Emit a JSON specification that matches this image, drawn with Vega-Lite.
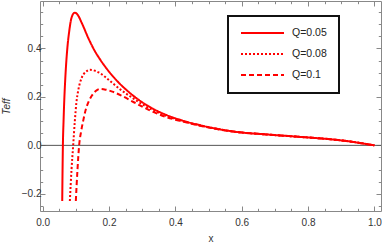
{
  "$schema": "https://vega.github.io/schema/vega-lite/v6.json",
  "width": 341,
  "height": 210,
  "autosize": "none",
  "padding": {"left": 40, "top": 1, "right": 1, "bottom": 33},
  "background": "white",
  "config": {
    "view": {"stroke": "#888888", "strokeWidth": 1},
    "font": "Liberation Sans",
    "legend": {"strokeWidth": 2},
    "axis": {
      "domain": false,
      "grid": false,
      "tickColor": "#888888",
      "labelColor": "#333333",
      "labelFont": "Liberation Sans",
      "labelFontSize": 10,
      "titleFont": "Liberation Sans",
      "titleFontSize": 10,
      "titleFontWeight": "normal",
      "titleColor": "#333333"
    }
  },
  "layer": [
    {
      "data": {"values": [{"x": -0.008, "x2": 1.02, "y": 0}]},
      "mark": {"type": "rule", "color": "#555555", "strokeWidth": 1},
      "encoding": {
        "x": {
          "field": "x", "type": "quantitative",
          "scale": {"domain": [-0.008, 1.02], "nice": false, "zero": false},
          "axis": {
            "orient": "top", "title": null, "labels": false,
            "values": [0, 0.05, 0.1, 0.15, 0.2, 0.25, 0.3, 0.35, 0.4, 0.45, 0.5, 0.55, 0.6, 0.65, 0.7, 0.75, 0.8, 0.85, 0.9, 0.95, 1.0],
            "tickSize": {"condition": {"test": "abs(datum.value*5 - round(datum.value*5)) < 0.001", "value": -5}, "value": -2.7}
          }
        },
        "x2": {"field": "x2"},
        "y": {
          "field": "y", "type": "quantitative",
          "scale": {"domain": [-0.271, 0.596], "nice": false, "zero": false},
          "axis": {
            "orient": "right", "title": null, "labels": false,
            "values": [-0.25, -0.2, -0.15, -0.1, -0.05, 0, 0.05, 0.1, 0.15, 0.2, 0.25, 0.3, 0.35, 0.4, 0.45, 0.5, 0.55],
            "tickSize": {"condition": {"test": "abs(datum.value*5 - round(datum.value*5)) < 0.001", "value": -5}, "value": -2.7}
          }
        }
      }
    },
    {
      "data": {"name": "curves", "values": [
        {"Q": "Q=0.05", "x": 0.059, "y": -0.23},
        {"Q": "Q=0.05", "x": 0.060, "y": -0.10},
        {"Q": "Q=0.05", "x": 0.061, "y": 0.0},
        {"Q": "Q=0.05", "x": 0.063, "y": 0.10},
        {"Q": "Q=0.05", "x": 0.065, "y": 0.18},
        {"Q": "Q=0.05", "x": 0.068, "y": 0.27},
        {"Q": "Q=0.05", "x": 0.071, "y": 0.34},
        {"Q": "Q=0.05", "x": 0.075, "y": 0.41},
        {"Q": "Q=0.05", "x": 0.080, "y": 0.47},
        {"Q": "Q=0.05", "x": 0.085, "y": 0.515},
        {"Q": "Q=0.05", "x": 0.090, "y": 0.538},
        {"Q": "Q=0.05", "x": 0.097, "y": 0.548},
        {"Q": "Q=0.05", "x": 0.105, "y": 0.54},
        {"Q": "Q=0.05", "x": 0.118, "y": 0.505},
        {"Q": "Q=0.05", "x": 0.137, "y": 0.445},
        {"Q": "Q=0.05", "x": 0.155, "y": 0.395},
        {"Q": "Q=0.05", "x": 0.173, "y": 0.355},
        {"Q": "Q=0.05", "x": 0.19, "y": 0.322},
        {"Q": "Q=0.05", "x": 0.21, "y": 0.288},
        {"Q": "Q=0.05", "x": 0.23, "y": 0.258},
        {"Q": "Q=0.05", "x": 0.25, "y": 0.232},
        {"Q": "Q=0.05", "x": 0.275, "y": 0.203},
        {"Q": "Q=0.05", "x": 0.30, "y": 0.178},
        {"Q": "Q=0.05", "x": 0.33, "y": 0.153},
        {"Q": "Q=0.05", "x": 0.37, "y": 0.127},
        {"Q": "Q=0.05", "x": 0.42, "y": 0.103},
        {"Q": "Q=0.05", "x": 0.475, "y": 0.083},
        {"Q": "Q=0.05", "x": 0.535, "y": 0.066},
        {"Q": "Q=0.05", "x": 0.575, "y": 0.057},
        {"Q": "Q=0.05", "x": 0.675, "y": 0.045},
        {"Q": "Q=0.05", "x": 0.776, "y": 0.035},
        {"Q": "Q=0.05", "x": 0.876, "y": 0.024},
        {"Q": "Q=0.05", "x": 0.927, "y": 0.016},
        {"Q": "Q=0.05", "x": 0.96, "y": 0.009},
        {"Q": "Q=0.05", "x": 1.0, "y": 0.0},
        {"Q": "Q=0.08", "x": 0.082, "y": -0.23},
        {"Q": "Q=0.08", "x": 0.087, "y": -0.10},
        {"Q": "Q=0.08", "x": 0.092, "y": 0.0},
        {"Q": "Q=0.08", "x": 0.097, "y": 0.10},
        {"Q": "Q=0.08", "x": 0.102, "y": 0.18},
        {"Q": "Q=0.08", "x": 0.107, "y": 0.225},
        {"Q": "Q=0.08", "x": 0.118, "y": 0.28},
        {"Q": "Q=0.08", "x": 0.13, "y": 0.303},
        {"Q": "Q=0.08", "x": 0.143, "y": 0.312},
        {"Q": "Q=0.08", "x": 0.16, "y": 0.307},
        {"Q": "Q=0.08", "x": 0.173, "y": 0.298},
        {"Q": "Q=0.08", "x": 0.188, "y": 0.283},
        {"Q": "Q=0.08", "x": 0.21, "y": 0.258},
        {"Q": "Q=0.08", "x": 0.238, "y": 0.227},
        {"Q": "Q=0.08", "x": 0.275, "y": 0.192},
        {"Q": "Q=0.08", "x": 0.30, "y": 0.170},
        {"Q": "Q=0.08", "x": 0.33, "y": 0.147},
        {"Q": "Q=0.08", "x": 0.37, "y": 0.123},
        {"Q": "Q=0.08", "x": 0.42, "y": 0.101},
        {"Q": "Q=0.08", "x": 0.475, "y": 0.082},
        {"Q": "Q=0.08", "x": 0.535, "y": 0.066},
        {"Q": "Q=0.08", "x": 0.575, "y": 0.057},
        {"Q": "Q=0.08", "x": 0.675, "y": 0.045},
        {"Q": "Q=0.08", "x": 0.776, "y": 0.035},
        {"Q": "Q=0.08", "x": 0.876, "y": 0.024},
        {"Q": "Q=0.08", "x": 0.927, "y": 0.016},
        {"Q": "Q=0.08", "x": 0.96, "y": 0.009},
        {"Q": "Q=0.08", "x": 1.0, "y": 0.0},
        {"Q": "Q=0.1", "x": 0.100, "y": -0.23},
        {"Q": "Q=0.1", "x": 0.105, "y": -0.10},
        {"Q": "Q=0.1", "x": 0.110, "y": 0.0},
        {"Q": "Q=0.1", "x": 0.116, "y": 0.058},
        {"Q": "Q=0.1", "x": 0.122, "y": 0.10},
        {"Q": "Q=0.1", "x": 0.13, "y": 0.148},
        {"Q": "Q=0.1", "x": 0.14, "y": 0.185},
        {"Q": "Q=0.1", "x": 0.148, "y": 0.205},
        {"Q": "Q=0.1", "x": 0.16, "y": 0.224},
        {"Q": "Q=0.1", "x": 0.173, "y": 0.233},
        {"Q": "Q=0.1", "x": 0.19, "y": 0.23},
        {"Q": "Q=0.1", "x": 0.21, "y": 0.222},
        {"Q": "Q=0.1", "x": 0.238, "y": 0.205},
        {"Q": "Q=0.1", "x": 0.275, "y": 0.178},
        {"Q": "Q=0.1", "x": 0.30, "y": 0.160},
        {"Q": "Q=0.1", "x": 0.33, "y": 0.140},
        {"Q": "Q=0.1", "x": 0.37, "y": 0.118},
        {"Q": "Q=0.1", "x": 0.42, "y": 0.099},
        {"Q": "Q=0.1", "x": 0.475, "y": 0.081},
        {"Q": "Q=0.1", "x": 0.535, "y": 0.065},
        {"Q": "Q=0.1", "x": 0.575, "y": 0.057},
        {"Q": "Q=0.1", "x": 0.675, "y": 0.045},
        {"Q": "Q=0.1", "x": 0.776, "y": 0.035},
        {"Q": "Q=0.1", "x": 0.876, "y": 0.024},
        {"Q": "Q=0.1", "x": 0.927, "y": 0.016},
        {"Q": "Q=0.1", "x": 0.96, "y": 0.009},
        {"Q": "Q=0.1", "x": 1.0, "y": 0.0}
      ]},
      "mark": {"type": "line", "color": "#ff0000", "strokeWidth": 2, "interpolate": "monotone", "clip": true},
      "encoding": {
        "x": {
          "field": "x", "type": "quantitative",
          "scale": {"domain": [-0.008, 1.02], "nice": false, "zero": false},
          "title": "x",
          "axis": {
            "orient": "bottom",
            "values": [0, 0.05, 0.1, 0.15, 0.2, 0.25, 0.3, 0.35, 0.4, 0.45, 0.5, 0.55, 0.6, 0.65, 0.7, 0.75, 0.8, 0.85, 0.9, 0.95, 1.0],
            "labelExpr": "abs(datum.value*5 - round(datum.value*5)) < 0.001 ? format(datum.value, '.1f') : ''",
            "tickSize": {"condition": {"test": "abs(datum.value*5 - round(datum.value*5)) < 0.001", "value": -5}, "value": -2.7},
            "labelPadding": 11,
            "titlePadding": 6,
            "labelFlush": false
          }
        },
        "y": {
          "field": "y", "type": "quantitative",
          "scale": {"domain": [-0.271, 0.596], "nice": false, "zero": false},
          "title": "Teff",
          "axis": {
            "orient": "left",
            "values": [-0.25, -0.2, -0.15, -0.1, -0.05, 0, 0.05, 0.1, 0.15, 0.2, 0.25, 0.3, 0.35, 0.4, 0.45, 0.5, 0.55],
            "labelExpr": "abs(datum.value*5 - round(datum.value*5)) < 0.001 ? format(datum.value, '.1f') : ''",
            "tickSize": {"condition": {"test": "abs(datum.value*5 - round(datum.value*5)) < 0.001", "value": -5}, "value": -2.7},
            "labelPadding": 4,
            "titlePadding": 10,
            "titleFontStyle": "italic",
            "labelFlush": false
          }
        },
        "strokeDash": {
          "field": "Q", "type": "nominal",
          "scale": {"domain": ["Q=0.05", "Q=0.08", "Q=0.1"], "range": [[1, 0], [2, 2], [5, 3]]},
          "legend": {
            "title": null,
            "orient": "none",
            "legendX": 188,
            "legendY": 15,
            "symbolType": "stroke",
            "symbolSize": 1849,
            "symbolStrokeWidth": 2,
            "symbolStrokeColor": "#ff0000",
            "clipHeight": 10,
            "rowPadding": 10,
            "labelOffset": 7,
            "labelFontSize": 10.5,
            "labelColor": "#222222",
            "labelFont": "Liberation Sans",
            "padding": 12,
            "strokeColor": "#111111",
            "fillColor": "white"
          }
        }
      }
    }
  ],
  "resolve": {"axis": {"x": "independent", "y": "independent"}}
}
